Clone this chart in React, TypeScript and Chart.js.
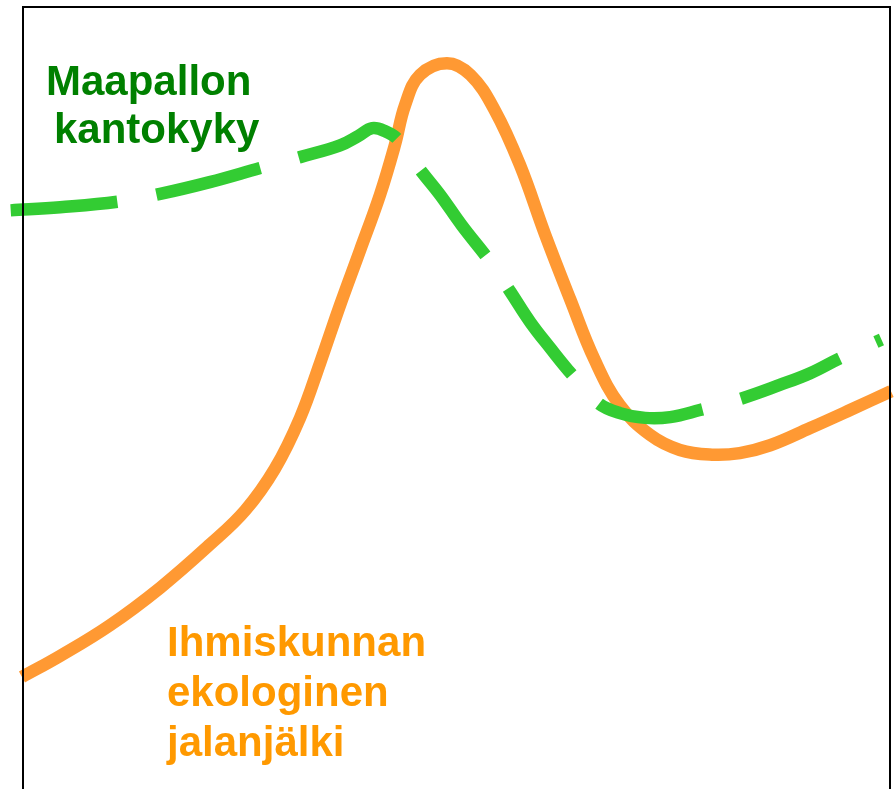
import React, { useEffect, useRef } from "react";
import { Chart, registerables } from "chart.js";

Chart.register(...registerables);

// Abstract time axis (0..100) and level axis (0..100)
const footprintX = [0, 4.4, 10.1, 15.9, 21.6, 25.7, 29.1, 32.0, 34.3, 36.6, 38.9, 41.2, 42.9, 44.1, 45.8, 48.9, 51.6, 54.4, 57.3, 60.2, 63.1, 65.9, 68.8, 72.3, 75.7, 79.4, 82.6, 86.1, 90.7, 95.3, 100];
const footprintY = [14.3, 17.0, 20.9, 25.7, 31.2, 35.6, 40.9, 47.4, 54.4, 61.8, 68.8, 75.9, 82.2, 87.4, 91.2, 92.7, 91.2, 86.7, 79.7, 70.8, 62.5, 54.8, 49.0, 45.2, 43.3, 42.7, 42.9, 43.9, 46.1, 48.4, 50.8];

const capacityX = [-1.3, 4.4, 11.0, 15.9, 21.6, 27.4, 32.0, 36.6, 38.7, 40.3, 41.8, 43.3, 45.8, 48.1, 50.6, 53.9, 56.2, 58.5, 60.8, 63.3, 66.3, 68.8, 71.7, 74.6, 78.0, 82.6, 87.2, 90.7, 94.1, 98.9];
const capacityY = [73.9, 74.3, 75.0, 76.0, 77.5, 79.3, 80.7, 82.2, 83.4, 84.4, 84.0, 82.9, 79.1, 75.9, 72.0, 67.3, 63.5, 59.6, 56.3, 52.9, 49.3, 48.0, 47.4, 47.5, 48.4, 49.8, 51.6, 53.1, 55.0, 57.4];

const capacityLabel = ["Maapallon", "kantokyky"];
const footprintLabel = ["Ihmiskunnan", "ekologinen", "jalanjälki"];

const boxPlugin = {
  id: "boxBorder",
  afterDatasetsDraw(chart: any) {
    const { ctx, chartArea } = chart;
    ctx.save();
    ctx.fillStyle = "#000";
    ctx.fillRect(chartArea.left, chartArea.top, 2, chartArea.bottom - chartArea.top);
    ctx.fillRect(chartArea.left, chartArea.top, chartArea.right - chartArea.left, 2);
    ctx.fillRect(chartArea.right - 2, chartArea.top, 2, chartArea.bottom - chartArea.top);
    ctx.restore();
  },
};

export default function App() {
  const ref = useRef<HTMLCanvasElement>(null);
  useEffect(() => {
    if (!ref.current) return;
    const chart = new Chart(ref.current, {
      type: "line",
      data: {
        datasets: [
          {
            label: "Maapallon kantokyky",
            data: capacityX.map((x, i) => ({ x, y: capacityY[i] })),
            borderColor: "#33CC33",
            borderWidth: 12.5,
            borderDash: [107, 40],
            borderCapStyle: "butt",
            pointRadius: 0,
            tension: 0.4,
            clip: false,
            fill: false,
          },
          {
            label: "Ihmiskunnan ekologinen jalanjälki",
            data: footprintX.map((x, i) => ({ x, y: footprintY[i] })),
            borderColor: "#FF9933",
            borderWidth: 12.5,
            pointRadius: 0,
            tension: 0.4,
            clip: false,
            fill: false,
          },
        ],
      },
      options: {
        animation: false,
        responsive: false,
        devicePixelRatio: 1,
        layout: { padding: { left: 22, right: 4, top: 6, bottom: 0 } },
        plugins: { legend: { display: false }, tooltip: { enabled: false } },
        scales: {
          x: { type: "linear", min: 0, max: 100, display: false },
          y: { type: "linear", min: 0, max: 100, display: false },
        },
      },
      plugins: [boxPlugin],
    });
    return () => chart.destroy();
  }, []);

  const font = '"Liberation Sans", Arial, sans-serif';
  return (
    <div style={{ position: "fixed", left: 0, top: 0, width: 895, height: 789, background: "#fff", overflow: "hidden" }}>
      <canvas ref={ref} width={895} height={789} style={{ position: "absolute", left: 0, top: 0, width: 895, height: 789 }} />
      <div style={{ position: "absolute", left: 46, top: 57, font: `bold 42px/48px ${font}`, color: "#008000", whiteSpace: "nowrap" }}>{capacityLabel[0]}</div>
      <div style={{ position: "absolute", left: 54, top: 105, font: `bold 42px/48px ${font}`, color: "#008000", whiteSpace: "nowrap" }}>{capacityLabel[1]}</div>
      <div style={{ position: "absolute", left: 167, top: 616.5, font: `bold 42px/50px ${font}`, color: "#FF9900", whiteSpace: "nowrap" }}>
        {footprintLabel.map((t) => (
          <div key={t}>{t}</div>
        ))}
      </div>
    </div>
  );
}
